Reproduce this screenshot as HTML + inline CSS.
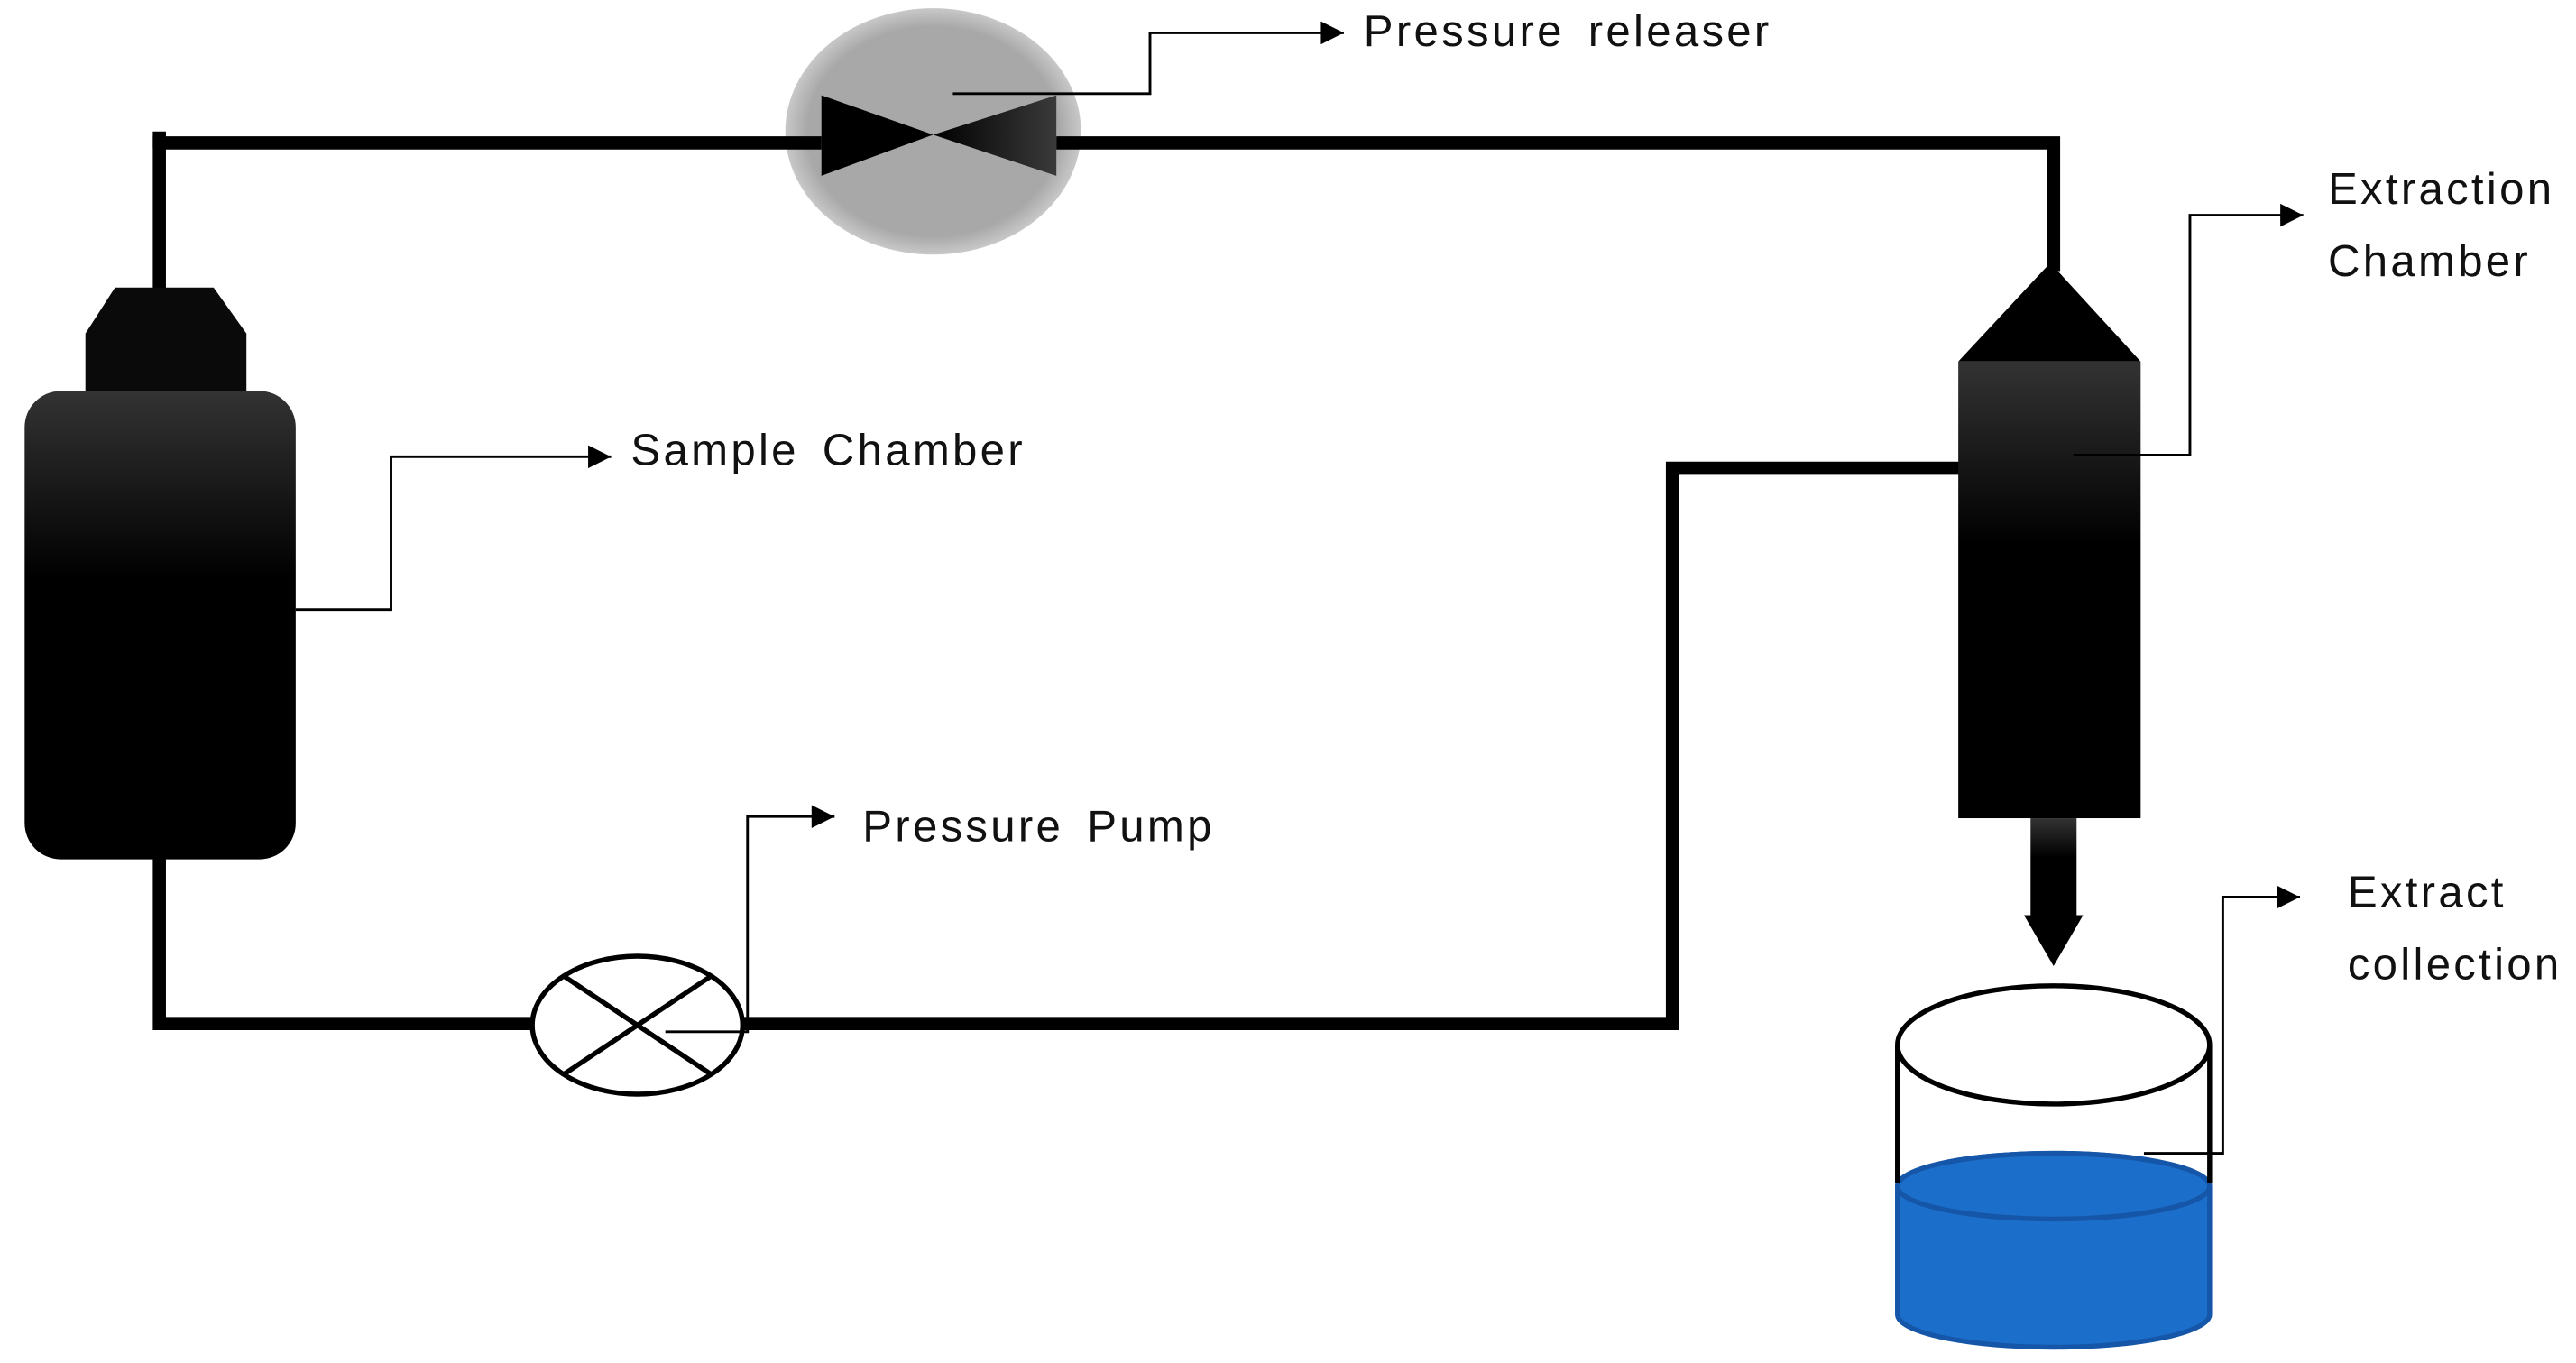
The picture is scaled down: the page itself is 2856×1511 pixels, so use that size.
<!DOCTYPE html>
<html><head><meta charset="utf-8"><style>
html,body{margin:0;padding:0;background:#fff;}
svg{display:block;}
text{font-family:"Liberation Sans",sans-serif;font-size:27px;fill:#111;word-spacing:5px;letter-spacing:1.8px;}
</style></head><body>
<svg width="2856" height="1511" viewBox="0 0 1568 829.6" preserveAspectRatio="none" xmlns="http://www.w3.org/2000/svg">
<defs>
<linearGradient id="g1" x1="0" y1="0" x2="0" y2="1">
<stop offset="0" stop-color="#333"/><stop offset="0.4" stop-color="#000"/><stop offset="1" stop-color="#000"/></linearGradient>
<linearGradient id="g2" x1="0" y1="0" x2="1" y2="0">
<stop offset="0" stop-color="#000"/><stop offset="1" stop-color="#3a3a3a"/></linearGradient>
<radialGradient id="gv" cx="0.5" cy="0.5" r="0.5"><stop offset="0.85" stop-color="#a8a8a8"/><stop offset="1" stop-color="#c8c8c8"/></radialGradient>
<marker id="ar" viewBox="0 0 10 10" refX="10" refY="5" markerWidth="18" markerHeight="14" markerUnits="userSpaceOnUse" orient="auto"><path d="M0,0 L10,5 L0,10 z" fill="#000"/></marker>
</defs>
<rect width="1568" height="830" fill="#fff"/>
<ellipse cx="568" cy="80" rx="90" ry="75" fill="url(#gv)"/>
<g stroke="#000" stroke-width="8" fill="none">
<polyline points="97,178 97,87 500,87"/>
<line x1="97" y1="80" x2="97" y2="90"/>
<polyline points="643,87 1250,87 1250,165"/>
<polyline points="97,520 97,623 324,623"/>
<polyline points="452,623 1018,623 1018,285 1193,285"/>
</g>
<polygon points="500,58 568,82 500,107" fill="#000"/>
<polygon points="643,58 568,82 643,107" fill="url(#g2)"/>
<polygon points="70,175 130,175 150,203 150,240 52,240 52,203" fill="#0a0a0a"/>
<rect x="15" y="238" width="165" height="285" rx="22" fill="url(#g1)"/>
<ellipse cx="388" cy="624" rx="64" ry="42" fill="#fff" stroke="#000" stroke-width="3"/>
<line x1="343" y1="594" x2="433" y2="654" stroke="#000" stroke-width="3"/>
<line x1="343" y1="654" x2="433" y2="594" stroke="#000" stroke-width="3"/>
<polygon points="1248,160 1303,220 1192,220" fill="#000"/>
<rect x="1192" y="220" width="111" height="278" fill="url(#g1)"/>
<rect x="1236" y="498" width="28" height="60" fill="url(#g1)"/>
<polygon points="1232,557 1268,557 1250,588" fill="#000"/>
<path d="M1155,722 L1155,800 A95,20 0 0 0 1345,800 L1345,722 A95,20 0 0 0 1155,722 z" fill="#1b6ec9" stroke="#1556a8" stroke-width="3"/>
<ellipse cx="1250" cy="722" rx="95" ry="20" fill="#1b6ec9" stroke="#1556a8" stroke-width="3"/>
<line x1="1155" y1="636" x2="1155" y2="720" stroke="#000" stroke-width="3"/>
<line x1="1345" y1="636" x2="1345" y2="720" stroke="#000" stroke-width="3"/>
<ellipse cx="1250" cy="636" rx="95" ry="36" fill="#fff" stroke="#000" stroke-width="3"/>
<g stroke="#000" stroke-width="1.6" fill="none" marker-end="url(#ar)">
<polyline points="580,57 700,57 700,20 818,20"/>
<polyline points="180,371 238,371 238,278 372,278"/>
<polyline points="405,628 455,628 455,497 508,497"/>
<polyline points="1262,277 1333,277 1333,131 1402,131"/>
<polyline points="1305,702 1353,702 1353,546 1400,546"/>
</g>
<text x="830" y="28">Pressure releaser</text>
<text x="384" y="283">Sample Chamber</text>
<text x="525" y="512">Pressure Pump</text>
<text x="1417" y="124">Extraction</text>
<text x="1417" y="168">Chamber</text>
<text x="1429" y="552">Extract</text>
<text x="1429" y="596">collection</text>
</svg>
</body></html>
